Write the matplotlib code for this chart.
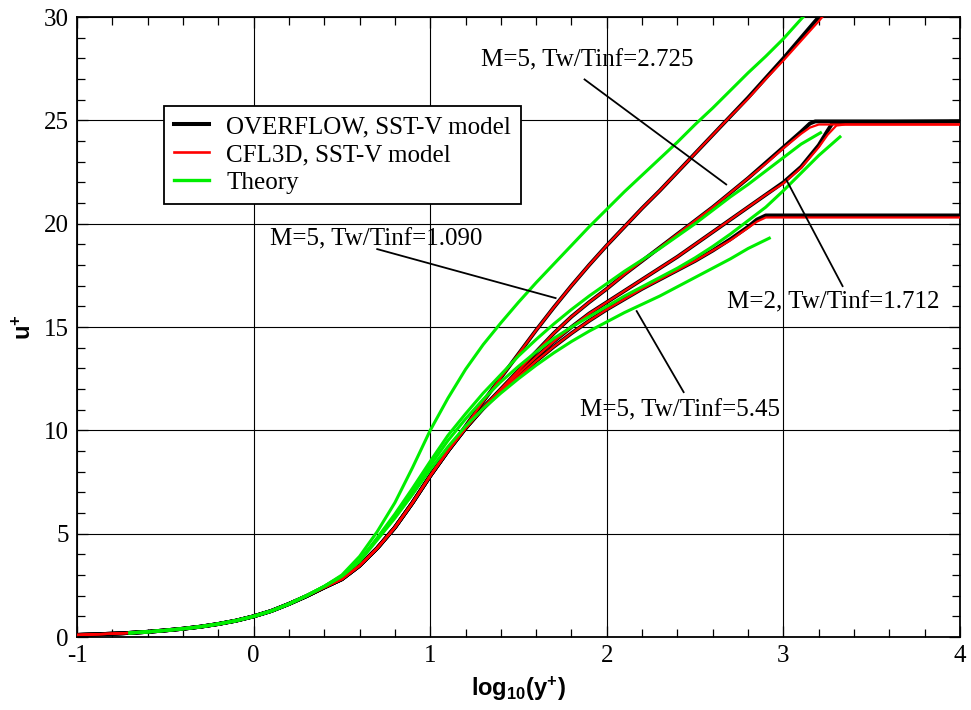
import matplotlib
matplotlib.use("Agg")
import matplotlib.pyplot as plt
from matplotlib.lines import Line2D
from matplotlib.ticker import MultipleLocator

plt.rcParams['axes.unicode_minus'] = False
plt.rcParams['mathtext.fontset'] = 'custom'
plt.rcParams['mathtext.rm'] = 'Liberation Sans:bold'
plt.rcParams['mathtext.bf'] = 'Liberation Sans:bold'
plt.rcParams['mathtext.it'] = 'Liberation Sans:bold'

# ---------------- data ----------------
# near-wall region shared by all profiles (log10(y+), u+)
x_wall = [-1.0, -0.9, -0.8, -0.7, -0.6, -0.5, -0.4, -0.3, -0.2, -0.1, 0.0, 0.1, 0.2, 0.3, 0.4]
u_wall = [0.10, 0.13, 0.16, 0.20, 0.25, 0.32, 0.40, 0.50, 0.63, 0.79, 1.00, 1.26, 1.60, 1.98, 2.40]

# computed (OVERFLOW black / CFL3D red)
x_cA = [0.5, 0.6, 0.7, 0.8, 0.9, 1.0, 1.1, 1.2, 1.3, 1.4, 1.5, 1.6, 1.7, 1.8, 1.9, 2.0, 2.1, 2.2, 2.3,
        2.4, 2.5, 2.6, 2.7, 2.8, 2.9, 3.0, 3.1, 3.2, 3.3]
u_cA_black = [2.8, 3.45, 4.3, 5.3, 6.5, 7.8, 9.0, 10.2, 11.4, 12.55, 13.7, 14.85, 15.95, 17.0, 18.0, 18.95,
              19.85, 20.75, 21.6, 22.5, 23.4, 24.3, 25.2, 26.1, 27.05, 28.0, 29.0, 30.0, 31.0]
u_cA_red = [2.8, 3.45, 4.3, 5.3, 6.5, 7.8, 9.0, 10.2, 11.4, 12.55, 13.7, 14.85, 15.95, 17.0, 18.0, 18.95,
            19.85, 20.75, 21.6, 22.5, 23.4, 24.3, 25.2, 26.05, 27.0, 27.9, 28.85, 29.8, 30.8]

x_cB_black = [0.5, 0.6, 0.7, 0.8, 0.9, 1.0, 1.1, 1.2, 1.3, 1.4, 1.5, 1.6, 1.7, 1.8, 1.9, 2.0, 2.1, 2.2,
              2.3, 2.4, 2.5, 2.6, 2.7, 2.8, 2.9, 3.0, 3.1, 3.15, 3.18, 4.0]
u_cB_black = [2.8, 3.45, 4.3, 5.3, 6.5, 7.8, 9.0, 10.1, 11.1, 12.0, 12.9, 13.8, 14.7, 15.5, 16.2, 16.85,
              17.55, 18.2, 18.85, 19.5, 20.15, 20.8, 21.5, 22.2, 22.95, 23.7, 24.45, 24.85, 24.95, 24.95]
x_cB_red = [0.5, 0.6, 0.7, 0.8, 0.9, 1.0, 1.1, 1.2, 1.3, 1.4, 1.5, 1.6, 1.7, 1.8, 1.9, 2.0, 2.1, 2.2,
            2.3, 2.4, 2.5, 2.6, 2.7, 2.8, 2.9, 3.0, 3.1, 3.15, 3.2, 3.25, 4.0]
u_cB_red = [2.8, 3.45, 4.3, 5.3, 6.5, 7.8, 9.0, 10.1, 11.1, 12.0, 12.9, 13.8, 14.7, 15.5, 16.2, 16.85,
            17.55, 18.2, 18.85, 19.5, 20.15, 20.8, 21.5, 22.2, 22.9, 23.65, 24.35, 24.65, 24.8, 24.8, 24.8]

x_cC_black = [0.5, 0.6, 0.7, 0.8, 0.9, 1.0, 1.1, 1.2, 1.3, 1.4, 1.5, 1.6, 1.7, 1.8, 1.9, 2.0, 2.1, 2.2,
              2.3, 2.4, 2.5, 2.6, 2.7, 2.8, 2.9, 3.0, 3.1, 3.2, 3.25, 3.28, 4.0]
u_cC_black = [2.8, 3.45, 4.3, 5.3, 6.5, 7.8, 9.0, 10.1, 11.1, 11.95, 12.75, 13.55, 14.3, 15.0, 15.65,
              16.2, 16.75, 17.3, 17.85, 18.4, 19.0, 19.6, 20.2, 20.8, 21.4, 22.0, 22.75, 23.8, 24.5,
              24.9, 24.95]
x_cC_red = [0.5, 0.6, 0.7, 0.8, 0.9, 1.0, 1.1, 1.2, 1.3, 1.4, 1.5, 1.6, 1.7, 1.8, 1.9, 2.0, 2.1, 2.2,
            2.3, 2.4, 2.5, 2.6, 2.7, 2.8, 2.9, 3.0, 3.1, 3.2, 3.25, 3.3, 3.35, 4.0]
u_cC_red = [2.8, 3.45, 4.3, 5.3, 6.5, 7.8, 9.0, 10.1, 11.1, 11.95, 12.75, 13.55, 14.3, 15.0, 15.65,
            16.2, 16.75, 17.3, 17.85, 18.4, 19.0, 19.6, 20.2, 20.8, 21.4, 21.95, 22.7, 23.7, 24.3,
            24.75, 24.8, 24.8]

x_cD_black = [0.5, 0.6, 0.7, 0.8, 0.9, 1.0, 1.1, 1.2, 1.3, 1.4, 1.5, 1.6, 1.7, 1.8, 1.9, 2.0, 2.1, 2.2,
              2.3, 2.4, 2.5, 2.6, 2.7, 2.8, 2.85, 2.9, 4.0]
u_cD_black = [2.8, 3.45, 4.3, 5.3, 6.5, 7.8, 9.0, 10.1, 11.05, 11.9, 12.6, 13.35, 14.05, 14.7, 15.3,
              15.85, 16.35, 16.85, 17.3, 17.75, 18.2, 18.7, 19.25, 19.85, 20.2, 20.4, 20.4]
x_cD_red = [0.5, 0.6, 0.7, 0.8, 0.9, 1.0, 1.1, 1.2, 1.3, 1.4, 1.5, 1.6, 1.7, 1.8, 1.9, 2.0, 2.1, 2.2,
            2.3, 2.4, 2.5, 2.6, 2.7, 2.8, 2.85, 2.9, 2.95, 4.0]
u_cD_red = [2.8, 3.45, 4.3, 5.3, 6.5, 7.8, 9.0, 10.1, 11.05, 11.9, 12.6, 13.35, 14.05, 14.7, 15.3,
            15.85, 16.35, 16.85, 17.3, 17.75, 18.2, 18.7, 19.2, 19.8, 20.1, 20.3, 20.3, 20.3]

# theory (green)
x_tw = [-0.7, -0.6, -0.5, -0.4, -0.3, -0.2, -0.1, 0.0, 0.1, 0.2, 0.3, 0.4]
u_tw = [0.20, 0.25, 0.32, 0.40, 0.50, 0.63, 0.79, 1.00, 1.26, 1.60, 2.00, 2.45]

x_tA = [0.5, 0.6, 0.7, 0.8, 0.9, 1.0, 1.1, 1.2, 1.3, 1.4, 1.5, 1.6, 1.7, 1.8, 1.9, 2.0, 2.1, 2.2, 2.3,
        2.4, 2.5, 2.6, 2.7, 2.8, 2.9, 3.0, 3.1, 3.2]
u_tA = [3.0, 3.9, 5.1, 6.5, 8.2, 10.0, 11.55, 12.95, 14.15, 15.2, 16.2, 17.15, 18.05, 18.95, 19.85,
        20.7, 21.55, 22.35, 23.15, 23.95, 24.8, 25.6, 26.45, 27.3, 28.1, 28.95, 29.9, 30.8]
x_tB = [0.5, 0.6, 0.7, 0.8, 0.9, 1.0, 1.1, 1.2, 1.3, 1.4, 1.5, 1.6, 1.7, 1.8, 1.9, 2.0, 2.1, 2.2, 2.3,
        2.4, 2.5, 2.6, 2.7, 2.8, 2.9, 3.0, 3.1, 3.21]
u_tB = [2.95, 3.7, 4.8, 5.95, 7.2, 8.5, 9.75, 10.8, 11.8, 12.7, 13.6, 14.4, 15.15, 15.85, 16.5, 17.1,
        17.7, 18.25, 18.8, 19.4, 20.0, 20.65, 21.3, 21.9, 22.55, 23.2, 23.85, 24.4]
x_tC = [0.5, 0.6, 0.7, 0.8, 0.9, 1.0, 1.1, 1.2, 1.3, 1.4, 1.5, 1.6, 1.7, 1.8, 1.9, 2.0, 2.1, 2.2, 2.3,
        2.4, 2.5, 2.6, 2.7, 2.8, 2.9, 3.0, 3.1, 3.2, 3.32]
u_tC = [2.95, 3.7, 4.75, 5.85, 7.05, 8.3, 9.5, 10.55, 11.5, 12.35, 13.1, 13.8, 14.45, 15.0, 15.5, 16.0,
        16.5, 16.95, 17.4, 17.85, 18.35, 18.9, 19.5, 20.15, 20.8, 21.6, 22.45, 23.3, 24.2]
x_tD = [0.5, 0.6, 0.7, 0.8, 0.9, 1.0, 1.1, 1.2, 1.3, 1.4, 1.5, 1.6, 1.7, 1.8, 1.9, 2.0, 2.1, 2.2, 2.3,
        2.4, 2.5, 2.6, 2.7, 2.8, 2.92]
u_tD = [2.95, 3.65, 4.7, 5.75, 6.9, 8.1, 9.2, 10.2, 11.05, 11.8, 12.5, 13.15, 13.75, 14.3, 14.8, 15.25,
        15.7, 16.1, 16.5, 16.95, 17.4, 17.85, 18.3, 18.8, 19.3]

legend_labels = ["OVERFLOW, SST-V model", "CFL3D, SST-V model", "Theory"]

# annotations: text, text position (x, u), line start, line end
ann_texts = ["M=5, Tw/Tinf=1.090", "M=5, Tw/Tinf=2.725", "M=2, Tw/Tinf=1.712", "M=5, Tw/Tinf=5.45"]
ann_text_xy = [(0.09, 19.25), (1.29, 27.9), (2.68, 16.2), (1.85, 10.95)]
ann_line_start = [(0.70, 18.77), (1.874, 26.98), (3.018, 22.1), (2.169, 15.77)]
ann_line_end = [(1.71, 16.4), (2.676, 21.9), (3.335, 16.98), (2.435, 11.85)]

# ---------------- plot ----------------
fig = plt.figure(figsize=(9.71, 7.10), dpi=100)
ax = fig.add_axes([0.0793, 0.1028, 0.9094, 0.8732])

BLACK_LW, RED_LW, GREEN_LW = 2.8, 1.6, 2.2
GREEN = "#00ee00"
FS = 18

def join(xa, ua, xb, ub):
    return list(xa) + list(xb), list(ua) + list(ub)

# black computed
for xs, us in [(x_cA, u_cA_black), (x_cB_black, u_cB_black), (x_cC_black, u_cC_black),
               (x_cD_black, u_cD_black)]:
    xx, uu = join(x_wall, u_wall, xs, us)
    ax.plot(xx, uu, color="black", lw=BLACK_LW, solid_capstyle="butt", solid_joinstyle="round", zorder=3)
# red computed
for xs, us in [(x_cA, u_cA_red), (x_cB_red, u_cB_red), (x_cC_red, u_cC_red), (x_cD_red, u_cD_red)]:
    xx, uu = join(x_wall, u_wall, xs, us)
    ax.plot(xx, uu, color="red", lw=RED_LW, solid_joinstyle="round", zorder=4)
# theory
for xs, us in [(x_tA, u_tA), (x_tB, u_tB), (x_tC, u_tC), (x_tD, u_tD)]:
    xx, uu = join(x_tw, u_tw, xs, us)
    ax.plot(xx, uu, color=GREEN, lw=GREEN_LW, solid_joinstyle="round", zorder=5)

# annotation lines and texts
serif = "Liberation Serif"
for t, txy, ls, le in zip(ann_texts, ann_text_xy, ann_line_start, ann_line_end):
    ax.plot([ls[0], le[0]], [ls[1], le[1]], color="black", lw=1.3, zorder=6)
    ax.text(txy[0], txy[1], t, fontsize=FS, family=serif, ha="left", va="center", zorder=7)

ax.set_xlim(-1, 4)
ax.set_ylim(0, 30)
ax.xaxis.set_major_locator(MultipleLocator(1))
ax.xaxis.set_minor_locator(MultipleLocator(0.2))
ax.yaxis.set_major_locator(MultipleLocator(5))
ax.yaxis.set_minor_locator(MultipleLocator(1))
ax.grid(True, which="major", color="black", lw=0.8)
ax.set_axisbelow(True)
ax.tick_params(which="both", direction="in", top=True, right=True, width=0.9, color="black")
ax.tick_params(which="major", length=8, labelsize=FS, pad=6)
ax.tick_params(which="minor", length=6)
for lab in ax.get_xticklabels() + ax.get_yticklabels():
    lab.set_family(serif)
for sp in ax.spines.values():
    sp.set_linewidth(1.3)

ax.set_xlabel(r"$\mathbf{log_{10}(y^{+})}$", fontsize=17, labelpad=5)
ax.set_ylabel(r"$\mathbf{u^{+}}$", fontsize=17, labelpad=6)

handles = [Line2D([], [], color="black", lw=2.9),
           Line2D([], [], color="red", lw=1.9),
           Line2D([], [], color=GREEN, lw=2.4)]
leg = ax.legend(handles, legend_labels, loc="upper left", bbox_to_anchor=(0.0985, 0.857),
                borderaxespad=0, fancybox=False, framealpha=1, edgecolor="black",
                prop={"family": serif, "size": FS}, handlelength=1.4, handletextpad=0.7,
                labelspacing=0.22, borderpad=0.4)
leg.get_frame().set_linewidth(1.3)
leg.set_zorder(10)

fig.savefig("out.png", dpi=100)
